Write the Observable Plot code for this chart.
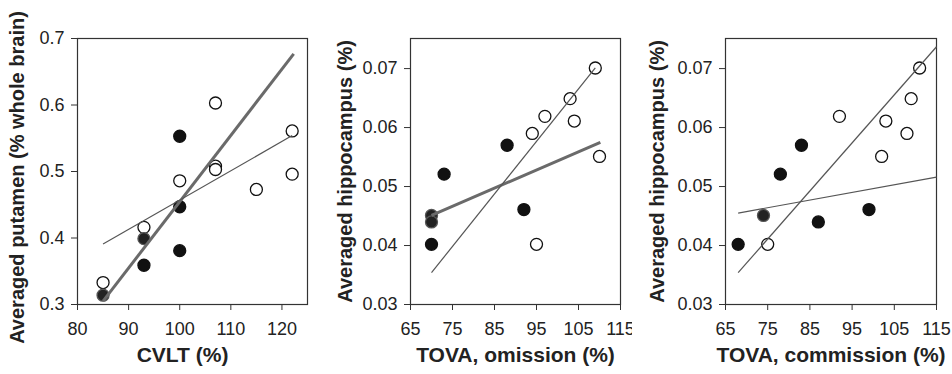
<!DOCTYPE html>
<html>
<head>
<meta charset="utf-8">
<script src="https://cdn.jsdelivr.net/npm/d3@7"></script>
<script src="https://cdn.jsdelivr.net/npm/@observablehq/plot@0.6"></script>
<style>
  html, body { margin: 0; padding: 0; background: #fff; }
  #row { display: flex; width: 952px; height: 374px; }
  #row svg { display: block; }
</style>
</head>
<body>
<div id="row"></div>
<script>
// ---- Panel 1: CVLT vs putamen ----
const cvltX     = [85, 85, 93, 93, 93, 100, 100, 100, 100, 107, 107, 107, 115, 122, 122];
const putamenY  = [0.333, 0.314, 0.416, 0.399, 0.359, 0.553, 0.486, 0.447, 0.381, 0.603, 0.508, 0.503, 0.473, 0.561, 0.496];
const cvltType  = ["O", "B", "O", "B", "F", "F", "O", "F", "F", "O", "O", "O", "O", "O", "O"];
const cvltFitX1 = [85, 85];
const cvltFitY1 = [0.305, 0.391];
const cvltFitX2 = [122.3, 122];
const cvltFitY2 = [0.677, 0.554];
const cvltFitKind = ["thick", "thin"];

// ---- Panel 2: TOVA omission vs hippocampus ----
const omisX     = [70, 70, 70, 73, 88, 92, 94, 95, 97, 103, 104, 109, 110];
const omisY     = [0.0402, 0.0451, 0.0440, 0.0521, 0.0570, 0.0461, 0.0590, 0.0402, 0.0619, 0.0649, 0.0611, 0.0701, 0.0551];
const omisType  = ["F", "B", "B", "F", "F", "F", "O", "O", "O", "O", "O", "O", "O"];
const omisFitX1 = [70, 70];
const omisFitY1 = [0.0451, 0.0354];
const omisFitX2 = [110.2, 109];
const omisFitY2 = [0.0575, 0.0701];
const omisFitKind = ["thick", "thin"];

// ---- Panel 3: TOVA commission vs hippocampus ----
const commX     = [68, 74, 75, 78, 83, 87, 92, 99, 102, 103, 108, 109, 111];
const commY     = [0.0402, 0.0451, 0.0402, 0.0521, 0.0570, 0.0440, 0.0619, 0.0461, 0.0551, 0.0611, 0.0590, 0.0649, 0.0701];
const commType  = ["F", "B", "O", "F", "F", "F", "O", "F", "O", "O", "O", "O", "O"];
const commFitX1 = [68, 68];
const commFitY1 = [0.0354, 0.0455];
const commFitX2 = [115, 115];
const commFitY2 = [0.0737, 0.0516];
const commFitKind = ["thin", "thin"];

// ---- Axis ticks & titles ----
const cvltTicks = [80, 90, 100, 110, 120];
const putamenTicks = [0.3, 0.4, 0.5, 0.6, 0.7];
const tovaTicks = [65, 75, 85, 95, 105, 115];
const hippoTicks = [0.03, 0.04, 0.05, 0.06, 0.07];
const xTitles = ["CVLT (%)", "TOVA, omission (%)", "TOVA, commission (%)"];
const yTitles = ["Averaged putamen (% whole brain)", "Averaged hippocampus (%)", "Averaged hippocampus (%)"];

const FONT = "'Liberation Sans', Arial, Helvetica, sans-serif";

function panel(cfg) {
  const pts = cfg.xs.map((x, i) => ({x, y: cfg.ys[i], t: cfg.types[i]}));
  const fits = cfg.fx1.map((x1, i) => ({x1, y1: cfg.fy1[i], x2: cfg.fx2[i], y2: cfg.fy2[i], k: cfg.kind[i]}));
  return Plot.plot({
    width: cfg.width,
    height: 374,
    marginLeft: cfg.ml,
    marginRight: cfg.mr,
    marginTop: 38,
    marginBottom: 70,
    style: {fontFamily: FONT, fontSize: "18px", color: "#222", background: "#fff", overflow: "visible"},
    x: {domain: cfg.xDomain},
    y: {domain: cfg.yDomain},
    marks: [
      Plot.frame({stroke: "#333", strokeWidth: 1.2}),
      Plot.axisX({ticks: cfg.xTicks, tickSize: 6, tickPadding: 12, fontSize: 18, label: null, stroke: "#333"}),
      Plot.axisY({ticks: cfg.yTicks, tickSize: 6, tickPadding: 7, fontSize: 18, label: null, stroke: "#333", tickFormat: cfg.yFmt}),
      Plot.dot(pts, {x: "x", y: "y", r: 6,
        fill: d => d.t === "O" ? "#fff" : (d.t === "B" ? "#222" : "#111"),
        stroke: d => d.t === "B" ? "#555" : "#111",
        strokeWidth: 1.3}),
      Plot.link(fits, {x1: "x1", y1: "y1", x2: "x2", y2: "y2",
        stroke: d => d.k === "thick" ? "#6a6a6a" : "#555",
        strokeWidth: d => d.k === "thick" ? 3 : 1.2}),
      Plot.text([cfg.xTitle], {frameAnchor: "bottom", textAnchor: "middle", dy: 57, dx: cfg.xTitleDx, fontWeight: "bold", fontSize: 21, fill: "#222", text: d => d}),
      Plot.text([cfg.yTitle], {frameAnchor: "left", textAnchor: "middle", rotate: -90, dx: cfg.yTitleDx, dy: cfg.yTitleDy, fontWeight: "bold", fontSize: 20, fill: "#222", text: d => d})
    ]
  });
}

const row = document.getElementById("row");
row.appendChild(panel({
  width: 320, ml: 77, mr: 13,
  xs: cvltX, ys: putamenY, types: cvltType,
  fx1: cvltFitX1, fy1: cvltFitY1, fx2: cvltFitX2, fy2: cvltFitY2, kind: cvltFitKind,
  xDomain: [80, 125], yDomain: [0.3, 0.7],
  xTicks: cvltTicks, yTicks: putamenTicks, yFmt: d3.format(".1f"),
  xTitle: xTitles[0], yTitle: yTitles[0], xTitleDx: -10, yTitleDx: -60, yTitleDy: 6
}));
row.appendChild(panel({
  width: 312, ml: 90, mr: 12,
  xs: omisX, ys: omisY, types: omisType,
  fx1: omisFitX1, fy1: omisFitY1, fx2: omisFitX2, fy2: omisFitY2, kind: omisFitKind,
  xDomain: [65, 115], yDomain: [0.03, 0.0751],
  xTicks: tovaTicks, yTicks: hippoTicks, yFmt: d3.format(".2f"),
  xTitle: xTitles[1], yTitle: yTitles[1], xTitleDx: 0, yTitleDx: -65, yTitleDy: 0
}));
row.appendChild(panel({
  width: 320, ml: 93, mr: 16,
  xs: commX, ys: commY, types: commType,
  fx1: commFitX1, fy1: commFitY1, fx2: commFitX2, fy2: commFitY2, kind: commFitKind,
  xDomain: [65, 115], yDomain: [0.03, 0.0751],
  xTicks: tovaTicks, yTicks: hippoTicks, yFmt: d3.format(".2f"),
  xTitle: xTitles[2], yTitle: yTitles[2], xTitleDx: 0, yTitleDx: -68, yTitleDy: 0
}));
</script>
</body>
</html>
